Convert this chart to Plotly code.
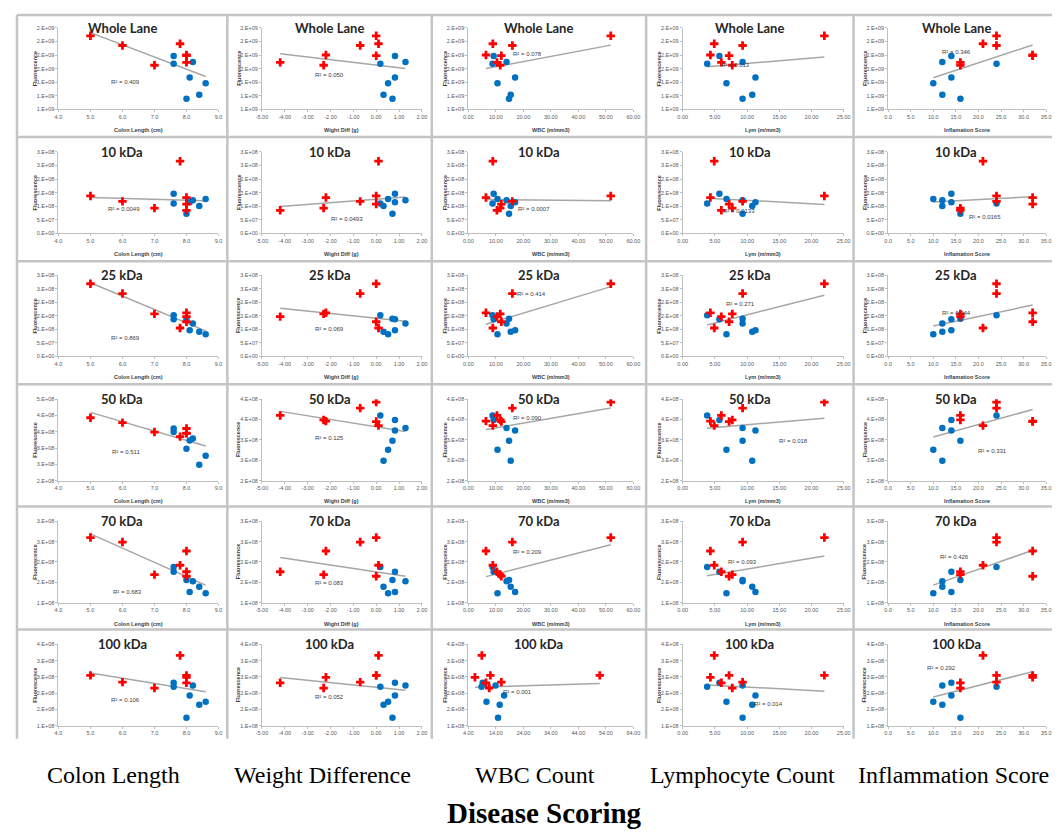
import math
import numpy as np
import plotly.graph_objects as go

# ---------------- data (14 mice: 7 colitis = red, 7 control = blue) ----------------
is_colitis = [True] * 7 + [False] * 7
colon_length = [5.0, 6.0, 7.8, 7.0, 8.0, 8.0, 8.0, 7.6, 7.6, 8.2, 8.1, 8.6, 8.4, 8.0]
weight_diff = [0.00, -0.70, 0.10, -2.30, -4.20, -2.20, 0.00, 0.82, 0.18, 1.28, 0.82, 0.52, 0.32, 0.71]
wbc_count = [51.8, 16.0, 8.9, 11.6, 10.4, 6.4, 12.0, 9.2, 8.8, 13.9, 17.0, 10.6, 15.4, 14.8]
lym_count = [22.0, 9.3, 4.9, 7.7, 6.0, 4.3, 7.2, 5.7, 3.8, 9.3, 11.3, 6.8, 10.8, 9.3]
inflam_score = [24, 24, 21, 16, 16, 32, 32, 14, 24, 12, 14, 10, 12, 16]

fluor_whole = [2.083e9, 1.940e9, 1.966e9, 1.649e9, 1.692e9, 1.800e9, 1.790e9,
               1.785e9, 1.673e9, 1.697e9, 1.468e9, 1.385e9, 1.214e9, 1.156e9]
fluor_10 = [1.38e8, 1.18e8, 2.66e8, 0.93e8, 0.85e8, 1.32e8, 1.08e8,
            1.46e8, 1.10e8, 1.22e8, 1.15e8, 1.27e8, 1.01e8, 0.72e8]
fluor_25 = [2.68e8, 2.32e8, 1.05e8, 1.57e8, 1.47e8, 1.61e8, 1.28e8,
            1.37e8, 1.52e8, 1.22e8, 0.97e8, 0.82e8, 0.91e8, 1.39e8]
fluor_50 = [3.93e8, 3.78e8, 3.35e8, 3.49e8, 3.60e8, 3.46e8, 3.45e8,
            3.49e8, 3.60e8, 3.29e8, 3.23e8, 2.76e8, 2.49e8, 2.98e8]
fluor_70 = [2.60e8, 2.49e8, 1.92e8, 1.69e8, 1.76e8, 2.27e8, 1.65e8,
            1.76e8, 1.88e8, 1.53e8, 1.26e8, 1.23e8, 1.39e8, 1.56e8]
fluor_100 = [2.55e8, 2.34e8, 3.16e8, 2.16e8, 2.32e8, 2.49e8, 2.55e8,
             2.32e8, 2.20e8, 2.24e8, 1.93e8, 1.74e8, 1.65e8, 1.25e8]

band_names = ["Whole Lane", "10 kDa", "25 kDa", "50 kDa", "70 kDa", "100 kDa"]
x_titles = ["Colon Length (cm)", "Wight Diff (g)", "WBC (m/mm3)", "Lym (m/mm3)", "Inflamation Score"]
column_labels = ["Colon Length", "Weight Difference", "WBC Count", "Lymphocyte Count", "Inflammation Score"]
main_label = "Disease Scoring"
y_title = "Fluorescence"

r2_text = [
    ["0.409", "0.050", "0.078", "0.013", "0.346"],
    ["0.0049", "0.0493", "0.0007", "0.0133", "0.0165"],
    ["0.869", "0.069", "0.414", "0.271", "0.344"],
    ["0.511", "0.125", "0.090", "0.018", "0.331"],
    ["0.683", "0.083", "0.209", "0.093", "0.426"],
    ["0.106", "0.052", "0.001", "0.014", "0.292"],
]

x_data = [colon_length, weight_diff, wbc_count, lym_count, inflam_score]
y_data = [fluor_whole, fluor_10, fluor_25, fluor_50, fluor_70, fluor_100]

# ---------------- axis scales (layout) ----------------
x_ranges = [(4.0, 9.0, 1.0, ".1f"), (-5.0, 2.0, 1.0, ".2f"), (0.0, 60.0, 10.0, ".2f"),
            (0.0, 25.0, 5.0, ".2f"), (0.0, 35.0, 5.0, ".1f")]
x_range_override = {(5, 2): (4.0, 64.0, 10.0, ".2f")}
y_ranges = [(1.0e9, 2.2e9, 0.2e9), (0.0, 3.0e8, 0.5e8), (0.0, 3.0e8, 0.5e8),
            (2.0e8, 4.0e8, 0.5e8), (1.0e8, 3.0e8, 0.5e8), (1.0e8, 3.5e8, 0.5e8)]
y_range_override = {(3, 0): (2.0e8, 4.5e8, 0.5e8)}

# R^2 label positions as fractions of each plot area
r2_pos = [
    [(0.42, 0.34), (0.42, 0.42), (0.36, 0.68), (0.33, 0.54), (0.43, 0.70)],
    [(0.41, 0.30), (0.53, 0.18), (0.40, 0.30), (0.35, 0.27), (0.61, 0.20)],
    [(0.42, 0.23), (0.42, 0.34), (0.38, 0.77), (0.36, 0.65), (0.43, 0.54)],
    [(0.42, 0.35), (0.42, 0.52), (0.36, 0.77), (0.69, 0.49), (0.66, 0.36)],
    [(0.43, 0.13), (0.42, 0.24), (0.36, 0.62), (0.37, 0.50), (0.42, 0.56)],
    [(0.42, 0.32), (0.42, 0.35), (0.30, 0.41), (0.53, 0.27), (0.34, 0.71)],
]

W, H = 1060, 832


def px(x):
    return x / W


def py(y):
    return 1 - y / H


plot_left = [45, 251, 460, 677, 885]
plot_width = [162, 162, 167, 163, 160]
plot_top = [17, 142, 266, 391, 514, 638]
plot_h = 82
panel_x = [3, 216, 423, 640, 850, 1058]
panel_y = [4, 127, 252, 376, 499, 623]
panel_bottom = 733

RED = "#ff0000"
BLUE = "#0070c0"
TICK_FONT = dict(family="Liberation Sans, Arial", size=5.5, color="#595959")


def excel_sci(v):
    if abs(v) < 1e-12:
        return "0.E+00"
    e = int(math.floor(math.log10(abs(v)) + 1e-12))
    m = v / 10 ** e
    mr = int(math.floor(m + 0.5 + 1e-9))
    if mr >= 10:
        mr = 1
        e += 1
    return f"{mr}.E{'+' if e >= 0 else '-'}{abs(e):02d}"


fig = go.Figure()
layout = {}
annotations = []

for r in range(6):
    for c in range(5):
        k = r * 5 + c + 1
        xs = np.array(x_data[c], dtype=float)
        ys = np.array(y_data[r], dtype=float)
        red_mask = np.array(is_colitis)
        xa = f"x{k}" if k > 1 else "x"
        ya = f"y{k}" if k > 1 else "y"

        # trend line (least squares over all points)
        slope, intercept = np.polyfit(xs, ys, 1)
        xl = np.array([xs.min(), xs.max()])
        fig.add_trace(go.Scatter(x=xl, y=slope * xl + intercept, mode="lines",
                                 line=dict(color="#a6a6a6", width=1.5),
                                 xaxis=xa, yaxis=ya, hoverinfo="skip", showlegend=False))
        fig.add_trace(go.Scatter(x=xs[~red_mask], y=ys[~red_mask], mode="markers",
                                 marker=dict(symbol="circle", size=6.5, color=BLUE),
                                 xaxis=xa, yaxis=ya, showlegend=False))
        fig.add_trace(go.Scatter(x=xs[red_mask], y=ys[red_mask], mode="markers",
                                 marker=dict(symbol="cross", size=7, color=RED),
                                 xaxis=xa, yaxis=ya, showlegend=False))

        x0, x1, dx, fmt = x_range_override.get((r, c), x_ranges[c])
        y0, y1, dy = y_range_override.get((r, c), y_ranges[r])
        xt = np.arange(x0, x1 + dx / 2, dx)
        yt = np.arange(y0, y1 + dy / 2, dy)
        L = plot_left[c]
        Wd = plot_width[c]
        T = plot_top[r]
        suffix = str(k) if k > 1 else ""
        layout["xaxis" + suffix] = dict(
            domain=[px(L), px(L + Wd)], range=[x0, x1], anchor=ya,
            tickvals=list(xt), ticktext=[format(v, fmt) for v in xt],
            showline=True, linecolor="#bfbfbf", linewidth=1, ticks="outside",
            ticklen=2, tickcolor="#bfbfbf", tickfont=TICK_FONT,
            showgrid=False, zeroline=False, fixedrange=True)
        layout["yaxis" + suffix] = dict(
            domain=[py(T + plot_h), py(T)], range=[y0, y1], anchor=xa,
            tickvals=list(yt), ticktext=[excel_sci(v) for v in yt],
            showline=True, linecolor="#bfbfbf", linewidth=1, ticks="outside",
            ticklen=2, tickcolor="#bfbfbf", tickfont=TICK_FONT,
            showgrid=False, zeroline=False, fixedrange=True)

        # panel title
        annotations.append(dict(x=px((panel_x[c] + panel_x[c + 1]) / 2), y=py(T),
                                xref="paper", yref="paper", showarrow=False,
                                text=f"<b>{band_names[r]}</b>", xanchor="center", yanchor="middle",
                                font=dict(family="Lato, Liberation Sans", size=13, color="#262626")))
        # x title (bottom row is cut off in the reference)
        if r < 5:
            annotations.append(dict(x=px(L + Wd / 2), y=py(T + plot_h + 21), xref="paper", yref="paper",
                                    showarrow=False, text=f"<b>{x_titles[c]}</b>",
                                    xanchor="center", yanchor="middle",
                                    font=dict(family="Liberation Sans, Arial", size=5.5, color="#404040")))
        # y title
        annotations.append(dict(x=px(L - 24), y=py(T + plot_h / 2), xref="paper", yref="paper",
                                showarrow=False, text=f"<b>{y_title}</b>", textangle=-90,
                                xanchor="center", yanchor="middle",
                                font=dict(family="Liberation Sans, Arial", size=5.5, color="#404040")))
        # R^2
        fx, fy = r2_pos[r][c]
        annotations.append(dict(x=px(L + fx * Wd), y=py(T + (1 - fy) * plot_h), xref="paper", yref="paper",
                                showarrow=False, text=f"R² = {r2_text[r][c]}",
                                xanchor="center", yanchor="middle",
                                font=dict(family="Liberation Sans, Arial", size=6, color="#404040")))

label_x = [101, 312, 527, 738, 951]
for c in range(5):
    annotations.append(dict(x=px(label_x[c]), y=py(770), xref="paper", yref="paper", showarrow=False,
                            text=column_labels[c], xanchor="center", yanchor="middle",
                            font=dict(family="Liberation Serif, Times New Roman", size=24, color="#000000")))
annotations.append(dict(x=px(537), y=py(808), xref="paper", yref="paper", showarrow=False,
                        text=f"<b>{main_label}</b>", xanchor="center", yanchor="middle",
                        font=dict(family="Liberation Serif, Times New Roman", size=29, color="#000000")))

shapes = []
for xv in panel_x:
    shapes.append(dict(type="line", xref="paper", yref="paper", x0=px(xv), x1=px(xv),
                       y0=py(panel_y[0]), y1=py(panel_bottom), line=dict(color="#c4c4c4", width=2.5)))
for yv in panel_y:
    shapes.append(dict(type="line", xref="paper", yref="paper", x0=px(panel_x[0]), x1=px(panel_x[-1]),
                       y0=py(yv), y1=py(yv), line=dict(color="#c4c4c4", width=2.5)))

fig.update_layout(width=W, height=H, margin=dict(l=0, r=0, t=0, b=0),
                  paper_bgcolor="white", plot_bgcolor="white",
                  annotations=annotations, shapes=shapes, showlegend=False, **layout)

fig.write_html("out.html")
